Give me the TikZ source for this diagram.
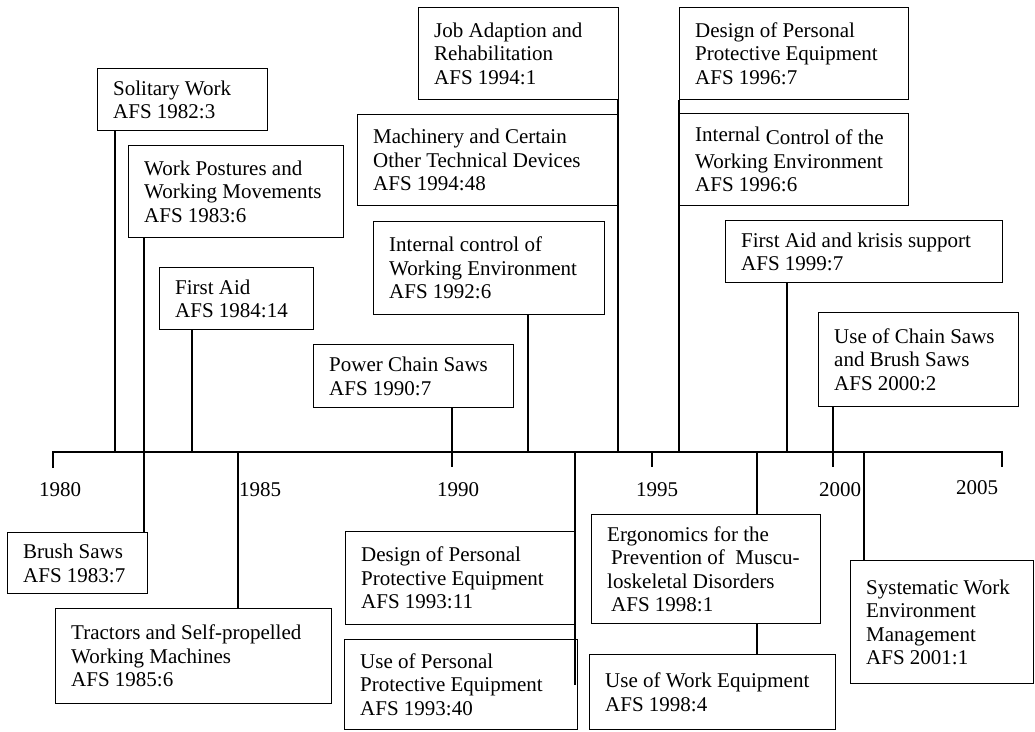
\documentclass[tikz,border=0pt]{standalone}
\usepackage{fontspec}
\setmainfont{Liberation Serif}
% #1 name, #2 left, #3 top, #4 right, #5 bottom, #6 text
\newcommand\lawbox[6]{%
  \pgfmathsetmacro\bw{#4-#2}%
  \pgfmathsetmacro\bh{#5-#3}%
  \node[box, minimum width=\bw pt, minimum height=\bh pt] (#1) at (#2,#3) {};
  \node[lbl] (#1-t) at ([xshift=16pt]#1.west) {#6};
}
\begin{document}
\begin{tikzpicture}[x=1pt,y=-1pt,
  box/.style={draw, line width=1.3pt, anchor=north west, inner sep=0pt},
  lbl/.style={align=left, anchor=west, inner sep=0pt, font=\fontsize{21}{23.5}\selectfont},
  yr/.style={inner sep=0pt, font=\fontsize{21}{23.5}\selectfont},
  link/.style={line width=1.3pt},
  axis/.style={line width=1.8pt, line join=miter}]
\useasboundingbox (0,0) rectangle (1035,731);

% regulations above the time axis
\lawbox{solitary}{97}{68}{267}{130}{Solitary Work\\AFS 1982:3}
\lawbox{postures}{128}{145}{343}{237}{Work Postures and\\Working Movements\\AFS 1983:6}
\lawbox{firstaid}{159}{267}{313}{329}{First Aid\\AFS 1984:14}
\lawbox{chainsaw90}{313}{344}{513}{407}{Power Chain Saws\\AFS 1990:7}
\lawbox{jobadapt}{418}{7}{618}{99}{Job Adaption and\\Rehabilitation\\AFS 1994:1}
\lawbox{machinery}{357}{114}{618}{205}{Machinery and Certain\\Other Technical Devices\\AFS 1994:48}
\lawbox{intctrl92}{373}{221}{604}{314}{Internal control of\\Working Environment\\AFS 1992:6}
\lawbox{design96}{679}{7}{908}{99}{Design of Personal\\Protective Equipment\\AFS 1996:7}
\lawbox{intctrl96}{679}{113}{908}{205}{\raisebox{3pt}{Internal} Control of the\\Working Environment\\AFS 1996:6}
\lawbox{krisis}{725}{220}{1002}{282}{First Aid and krisis support\\AFS 1999:7}
\lawbox{chainsaw00}{818}{312}{1018}{406}{Use of Chain Saws\\and Brush Saws\\AFS 2000:2}

% regulations below the time axis
\lawbox{brush}{7}{532}{147}{593}{Brush Saws\\AFS 1983:7}
\lawbox{tractors}{55}{608}{331}{703}{Tractors and Self-propelled\\Working Machines\\AFS 1985:6}
\lawbox{design93}{345}{531}{575}{624}{Design of Personal\\Protective Equipment\\AFS 1993:11}
\lawbox{ppe93}{344}{639}{577}{729}{Use of Personal\\Protective Equipment\\AFS 1993:40}
\lawbox{ergo}{591}{514}{820}{623}{Ergonomics for the\\\hspace*{4pt}Prevention of\ \ Muscu-\\loskeletal Disorders\\\hspace*{4pt}AFS 1998:1}
\lawbox{workeq}{589}{654}{835}{729}{Use of Work Equipment\\AFS 1998:4}
\lawbox{systematic}{850}{560}{1033}{683}{Systematic Work\\Environment\\Management\\AFS 2001:1}

% time axis
\coordinate (ax0) at (53,452);
\coordinate (ax1) at (1002,452);
\coordinate (t1980) at (53,468);
\coordinate (t1990) at (452,467);
\coordinate (a1995) at (652,452);
\coordinate (t1995) at (652,467);
\coordinate (t2000) at (833,467);
\coordinate (t2005) at (1002,467);
\draw[axis] (t1980) -- (ax0) -- (ax1) -- (t2005);
\draw[link] (a1995) -- (t1995);

\node[yr] (l1980) at (60,490) {1980};
\node[yr] (l1985) at (260,490) {1985};
\node[yr] (l1990) at (458,490) {1990};
\node[yr] (l1995) at (657,490) {1995};
\node[yr] (l2000) at (840,490) {2000};
\node[yr] (l2005) at (977,488) {2005};

% junctions on the axis
\coordinate (j115) at (115,452);
\coordinate (j144) at (144,452);
\coordinate (j192) at (192,452);
\coordinate (j238) at (238,452);
\coordinate (j452) at (452,452);
\coordinate (j528) at (528,452);
\coordinate (j575) at (575,452);
\coordinate (j618) at (618,452);
\coordinate (j679) at (679,452);
\coordinate (j757) at (757,452);
\coordinate (j787) at (787,452);
\coordinate (j833) at (833,452);
\coordinate (j864) at (864,452);

% connectors
\draw[link] (solitary.south -| j115) -- (j115);
\draw[link] (postures.south -| j144) -- (brush.north -| j144);
\draw[link] (firstaid.south -| j192) -- (j192);
\draw[link] (j238) -- (tractors.north -| j238);
\draw[link] (chainsaw90.south -| j452) -- (t1990);
\draw[link] (intctrl92.south -| j528) -- (j528);
\draw[link] (j575) -- (ppe93.east -| j575);
\draw[link] (jobadapt.south -| j618) -- (j618);
\draw[link] (design96.south -| j679) -- (j679);
\draw[link] (j757) -- (ergo.north -| j757);
\draw[link] (ergo.south -| j757) -- (workeq.north -| j757);
\draw[link] (krisis.south -| j787) -- (j787);
\draw[link] (chainsaw00.south -| j833) -- (t2000);
\draw[link] (j864) -- (systematic.north -| j864);
\end{tikzpicture}
\end{document}
